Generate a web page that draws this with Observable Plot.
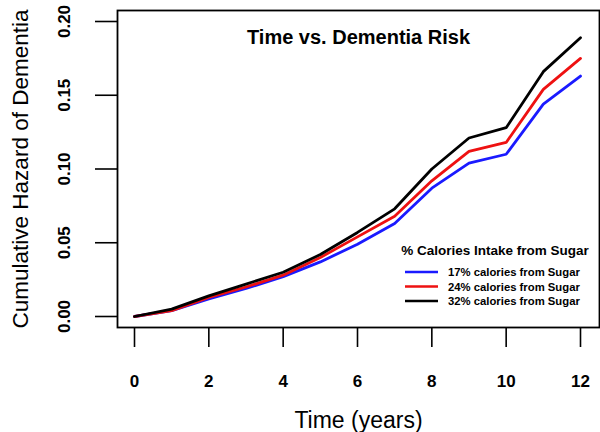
<!DOCTYPE html>
<html>
<head>
<meta charset="utf-8">
<script src="https://cdn.jsdelivr.net/npm/d3@7"></script>
<script src="https://cdn.jsdelivr.net/npm/@observablehq/plot@0.6"></script>
<style>
  html, body { margin: 0; padding: 0; background: #fff; }
  #chart { position: relative; width: 600px; height: 432px; }
</style>
</head>
<body>
<div id="chart"></div>
<script>
const years = [0, 1, 2, 3, 4, 5, 6, 7, 8, 9, 10, 11, 12];
const sugar17 = [0, 0.004, 0.012, 0.019, 0.027, 0.037, 0.049, 0.063, 0.087, 0.104, 0.110, 0.144, 0.163];
const sugar24 = [0, 0.004, 0.013, 0.020, 0.028, 0.040, 0.054, 0.068, 0.092, 0.112, 0.118, 0.154, 0.175];
const sugar32 = [0, 0.005, 0.014, 0.022, 0.030, 0.042, 0.057, 0.073, 0.100, 0.121, 0.128, 0.166, 0.189];
const seriesNames = ["17% calories from Sugar", "24% calories from Sugar", "32% calories from Sugar"];
const seriesColors = ["#1a1aff", "#ee1111", "#000000"];
const xTicks = [0, 2, 4, 6, 8, 10, 12];
const yTicks = [0, 0.05, 0.10, 0.15, 0.20];
const chartTitle = "Time vs. Dementia Risk";
const xTitle = "Time (years)";
const yTitle = "Cumulative Hazard of Dementia";
const legendTitle = "% Calories Intake from Sugar";

const seriesValues = [sugar17, sugar24, sugar32];
const data = [];
seriesNames.forEach((name, i) => {
  years.forEach((t, j) => data.push({series: name, time: t, hazard: seriesValues[i][j]}));
});

const font = "'Liberation Sans', Arial, Helvetica, sans-serif";

const plot = Plot.plot({
  width: 600,
  height: 432,
  marginLeft: 117,
  marginRight: 1,
  marginTop: 10,
  marginBottom: 105,
  style: {fontFamily: font, background: "#fff", color: "#000"},
  x: {domain: [0, 12], insetLeft: 17, insetRight: 19},
  y: {domain: [0, 0.2], insetTop: 11, insetBottom: 11},
  color: {domain: seriesNames, range: seriesColors},
  marks: [
    Plot.axisX({ticks: xTicks, tickSize: 20, tickPadding: 27, tickFormat: d3.format("d"),
      fontSize: 17, fontWeight: "bold", strokeWidth: 1.6, label: null}),
    Plot.axisY({ticks: yTicks, tickSize: 22, tickPadding: 26, tickRotate: -90, tickFormat: d3.format(".2f"),
      fontSize: 17, fontWeight: "bold", strokeWidth: 1.6, label: null}),
    Plot.frame({stroke: "#000", strokeWidth: 1.8}),
    Plot.line(data, {x: "time", y: "hazard", z: "series", stroke: "series", strokeWidth: 2.8, curve: "linear"}),
    Plot.text([chartTitle], {frameAnchor: "top", dy: 27, text: d => d, fontSize: 20, fontWeight: "bold", lineAnchor: "middle"}),
    Plot.text([xTitle], {frameAnchor: "bottom", dy: 93, text: d => d, fontSize: 23, lineAnchor: "middle"}),
    Plot.text([yTitle], {frameAnchor: "left", dx: -97, rotate: -90, text: d => d, fontSize: 22.5,
      textAnchor: "middle", lineAnchor: "middle"})
  ]
});

document.getElementById("chart").appendChild(plot);

const svg = d3.select(plot);

// legend
const lg = svg.append("g").attr("font-family", font).attr("font-weight", "bold").attr("fill", "#000");
lg.append("text").attr("x", 495).attr("y", 250).attr("text-anchor", "middle")
  .attr("dominant-baseline", "central").attr("font-size", 13.5).text(legendTitle);
seriesNames.forEach((name, i) => {
  const y = 272 + i * 14.5;
  lg.append("line").attr("x1", 405).attr("x2", 438).attr("y1", y).attr("y2", y)
    .attr("stroke", seriesColors[i]).attr("stroke-width", 2.6);
  lg.append("text").attr("x", 448).attr("y", y).attr("text-anchor", "start")
    .attr("dominant-baseline", "central").attr("font-size", 11.3).text(name);
});
</script>
</body>
</html>
